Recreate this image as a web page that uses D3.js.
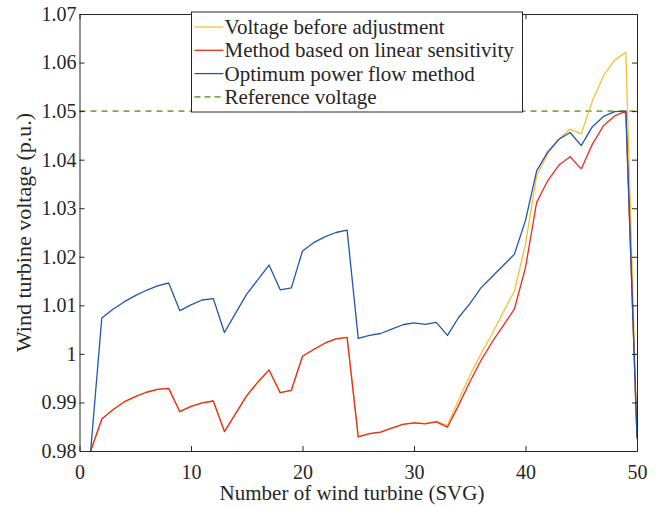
<!DOCTYPE html>
<html>
<head>
<meta charset="utf-8">
<script src="https://cdn.jsdelivr.net/npm/d3@7"></script>
<style>
    body { margin: 0; background: #fff; }
    text { font-family: "Liberation Serif", "Times New Roman", serif; fill: #262626; }
</style>
</head>
<body>
<div id="chart"></div>
<script>
// turbine numbers 1..50
const turbines = d3.range(1, 51);

const voltageBefore = [
    0.9800, 0.9866, 0.9885, 0.9901, 0.9912, 0.9921, 0.9927, 0.9929, 0.9881, 0.9892,
    0.9899, 0.9903, 0.9840, 0.9877, 0.9914, 0.9942, 0.9967, 0.9920, 0.9925, 0.9995,
    1.0009, 1.0022, 1.0031, 1.0034, 0.9829, 0.9836, 0.9839, 0.9847, 0.9855, 0.9858,
    0.9857, 0.9861, 0.9853, 0.9905, 0.9955, 1.0000, 1.0041, 1.0086, 1.0129, 1.0226,
    1.0367, 1.0412, 1.0442, 1.0463, 1.0453, 1.0521, 1.0573, 1.0605, 1.0621, 0.9830
];

const linearSensitivity = [
    0.9800, 0.9866, 0.9885, 0.9901, 0.9912, 0.9921, 0.9927, 0.9929, 0.9881, 0.9892,
    0.9899, 0.9903, 0.9840, 0.9877, 0.9914, 0.9942, 0.9967, 0.9920, 0.9925, 0.9995,
    1.0009, 1.0022, 1.0031, 1.0034, 0.9829, 0.9836, 0.9839, 0.9847, 0.9855, 0.9858,
    0.9856, 0.9860, 0.9849, 0.9894, 0.9942, 0.9986, 1.0024, 1.0058, 1.0092, 1.0178,
    1.0312, 1.0357, 1.0389, 1.0406, 1.0381, 1.0432, 1.0470, 1.0490, 1.0500, 0.9825
];

const optimumFlow = [
    0.9800, 1.0074, 1.0092, 1.0107, 1.0120, 1.0131, 1.0140, 1.0146, 1.0089, 1.0101,
    1.0111, 1.0114, 1.0044, 1.0084, 1.0123, 1.0153, 1.0183, 1.0132, 1.0136, 1.0212,
    1.0229, 1.0241, 1.0250, 1.0255, 1.0032, 1.0038, 1.0042, 1.0051, 1.0060, 1.0064,
    1.0061, 1.0065, 1.0038, 1.0075, 1.0103, 1.0136, 1.0159, 1.0182, 1.0205, 1.0275,
    1.0377, 1.0416, 1.0442, 1.0456, 1.0429, 1.0468, 1.0489, 1.0499, 1.0500, 0.9828
];

const referenceVoltage = 1.05;

const xTicks = [0, 10, 20, 30, 40, 50];
const yTicks = [0.98, 0.99, 1.00, 1.01, 1.02, 1.03, 1.04, 1.05, 1.06, 1.07];
const yTickLabels = ["0.98", "0.99", "1", "1.01", "1.02", "1.03", "1.04", "1.05", "1.06", "1.07"];

const seriesNames = [
    "Voltage before adjustment",
    "Method based on linear sensitivity",
    "Optimum power flow method",
    "Reference voltage"
];
const seriesColours = ["#F3C232", "#EC2A24", "#2156AE", "#77AC3F"];

const width = 657, height = 507;
const margin = { left: 79.5, right: 20, top: 14, bottom: 56 };
const axisColour = "#262626";

const svg = d3.select("#chart").append("svg")
    .attr("width", width)
    .attr("height", height);

const x = d3.scaleLinear().domain([0, 50]).range([margin.left, width - margin.right]);
const y = d3.scaleLinear().domain([0.98, 1.07]).range([height - margin.bottom, margin.top]);

const plot = svg.append("g");

// reference line first so curves draw over it
plot.append("line")
    .attr("x1", x(0)).attr("x2", x(50))
    .attr("y1", y(referenceVoltage)).attr("y2", y(referenceVoltage))
    .attr("stroke", seriesColours[3])
    .attr("stroke-width", 1.6)
    .attr("stroke-dasharray", "6,5");

const line = d3.line()
    .x((d, i) => x(turbines[i]))
    .y(d => y(d));

[voltageBefore, linearSensitivity, optimumFlow].forEach((vals, k) => {
    plot.append("path")
        .datum(vals)
        .attr("d", line)
        .attr("fill", "none")
        .attr("stroke", seriesColours[k])
        .attr("stroke-width", 1.3)
        .attr("stroke-linejoin", "round");
});

// axes, box with inward ticks
const tickLen = 5;
const bottomAxis = svg.append("g")
    .attr("transform", `translate(0, ${y(0.98)})`)
    .call(d3.axisBottom(x).tickValues(xTicks).tickSizeInner(-tickLen).tickSizeOuter(0).tickPadding(14));
const topAxis = svg.append("g")
    .attr("transform", `translate(0, ${y(1.07)})`)
    .call(d3.axisTop(x).tickValues(xTicks).tickSizeInner(-tickLen).tickSizeOuter(0).tickFormat(""));
const leftAxis = svg.append("g")
    .attr("transform", `translate(${x(0)}, 0)`)
    .call(d3.axisLeft(y).tickValues(yTicks).tickSizeInner(-tickLen).tickSizeOuter(0).tickPadding(3)
        .tickFormat((d, i) => yTickLabels[i]));
const rightAxis = svg.append("g")
    .attr("transform", `translate(${x(50)}, 0)`)
    .call(d3.axisRight(y).tickValues(yTicks).tickSizeInner(-tickLen).tickSizeOuter(0).tickFormat(""));

[bottomAxis, topAxis, leftAxis, rightAxis].forEach(g => {
    g.select(".domain").attr("stroke", axisColour).attr("stroke-width", 1);
    g.selectAll(".tick line").attr("stroke", axisColour);
    g.selectAll(".tick text")
        .attr("fill", axisColour)
        .style("font-family", "'Liberation Serif', serif")
        .style("font-size", "20px");
});

// axis titles
svg.append("text")
    .attr("x", 352)
    .attr("y", 500)
    .attr("text-anchor", "middle")
    .style("font-size", "21px")
    .text("Number of wind turbine (SVG)");

svg.append("text")
    .attr("transform", `translate(31, ${(y(0.98) + y(1.07)) / 2}) rotate(-90)`)
    .attr("text-anchor", "middle")
    .style("font-size", "22px")
    .text("Wind turbine voltage (p.u.)");

// legend
const legend = svg.append("g").attr("transform", "translate(191.5, 12)");
legend.append("rect")
    .attr("width", 331)
    .attr("height", 100)
    .attr("fill", "#fff")
    .attr("stroke", axisColour)
    .attr("stroke-width", 1);

seriesNames.forEach((name, i) => {
    const rowY = 15 + i * 23.3;
    legend.append("line")
        .attr("x1", 3).attr("x2", 32)
        .attr("y1", rowY).attr("y2", rowY)
        .attr("stroke", seriesColours[i])
        .attr("stroke-width", i === 3 ? 1.6 : 1.3)
        .attr("stroke-dasharray", i === 3 ? "6,4" : null);
    legend.append("text")
        .attr("x", 33)
        .attr("y", rowY + 7)
        .style("font-size", "21px")
        .text(name);
});
</script>
</body>
</html>
